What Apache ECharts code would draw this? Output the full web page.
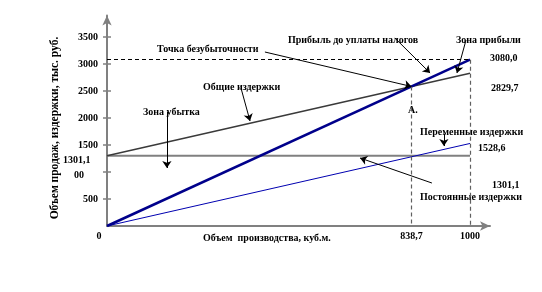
<!DOCTYPE html>
<html><head><meta charset="utf-8">
<script src="https://cdn.jsdelivr.net/npm/echarts@6/dist/echarts.min.js"></script>
<style>html,body{margin:0;padding:0;background:#fff}#c{width:542px;height:292px}</style>
</head><body><div id="c"></div>
<script>
// ---- data ----
const volumes = [0, 1000];
const revenue = [0, 3080.0];
const totalCosts = [1301.1, 2829.7];
const variableCosts = [0, 1528.6];
const fixedCosts = [1301.1, 1301.1];
const breakEvenVolume = 838.7;
const breakEvenRevenue = 2583.2;
const yTickValues = [500, 1000, 1500, 2000, 2500, 3000, 3500];
const yTickLabels = ['500', '00', '1500', '2000', '2500', '3000', '3500'];
const xLabelValues = [0, 838.7, 1000];
const xLabelTexts = ['0', '838,7', '1000'];
// annotation arrows: [fromX, fromY, toX, toY] in data units
const arrows = [
  [435, 3222, 838.7, 2583.2],
  [793, 3481, 890, 2833],
  [989, 3444, 964, 2833],
  [369, 2556, 394, 1944],
  [165, 2111, 165, 1074],
  [928, 1704, 928, 1481],
  [895, 796, 697, 1259]
];

const pairs = (xs, ys) => xs.map((x, i) => [x, ys[i]]);
const FONT = 'Liberation Serif';
const txt = (text, x, y, extra) => Object.assign({
  type: 'text', left: x, top: y,
  style: { text: text, font: 'bold 10px "Liberation Serif"', fill: '#000', textVerticalAlign: 'middle' }
}, extra || {});

const chart = echarts.init(document.getElementById('c'), null, { renderer: 'canvas' });
const option = {
  animation: false,
  grid: { left: 107, right: 52, top: 15.4, bottom: 66, containLabel: false },
  xAxis: {
    type: 'value', min: 0, max: 1055,
    splitLine: { show: false },
    axisLine: { lineStyle: { color: '#808080', width: 2 }, symbol: ['none', 'arrow'], symbolSize: [7, 10] },
    axisTick: { show: false },
    axisLabel: {
      customValues: xLabelValues,
      margin: 5,
      fontFamily: FONT, fontWeight: 'bold', fontSize: 10, color: '#000',
      formatter: v => {
        const i = xLabelValues.indexOf(v);
        const t = i >= 0 ? xLabelTexts[i] : '';
        return v === 0 ? '{z|' + t + '}' : t;
      },
      rich: { z: { padding: [0, 16, 0, 0], fontFamily: FONT, fontWeight: 'bold', fontSize: 10, color: '#000' } }
    }
  },
  yAxis: [{
    type: 'value', min: 0, max: 3900,
    splitLine: { show: false },
    axisLine: { lineStyle: { color: '#808080', width: 2 }, symbol: ['none', 'arrow'], symbolSize: [7, 10] },
    axisTick: { customValues: yTickValues, length: 4, lineStyle: { color: '#808080', width: 1.5 } },
    axisLabel: {
      customValues: yTickValues, margin: 9,
      fontFamily: FONT, fontWeight: 'bold', fontSize: 10, color: '#000',
      formatter: v => {
        const i = yTickValues.indexOf(v);
        const t = i >= 0 ? yTickLabels[i] : '';
        return v === 1000 ? '{s|' + t + '}' : t;
      },
      rich: { s: { padding: [6, 14, 0, 0], fontFamily: FONT, fontWeight: 'bold', fontSize: 10, color: '#000' } }
    }
  }, {
    type: 'value', min: 0, max: 3900, position: 'left',
    splitLine: { show: false }, axisLine: { show: false }, axisLabel: { show: false },
    axisTick: { customValues: yTickValues, inside: true, length: 4, lineStyle: { color: '#808080', width: 1.5 } }
  }],
  series: [
    {
      type: 'line', name: 'fixed', data: pairs(volumes, fixedCosts), symbol: 'none',
      lineStyle: { color: '#808080', width: 2 }, z: 2,
      markLine: {
        silent: true, animation: false, symbol: ['none', 'none'], label: { show: false },
        data: [
          [{ coord: [0, revenue[1]], lineStyle: { color: '#000', type: [4, 3], width: 1 } }, { coord: [volumes[1], revenue[1]] }],
          [{ coord: [breakEvenVolume, breakEvenRevenue], lineStyle: { color: '#606060', type: [4, 3], width: 1.2 } }, { coord: [breakEvenVolume, 0] }],
          [{ coord: [volumes[1], revenue[1]], lineStyle: { color: '#606060', type: [4, 3], width: 1.2 } }, { coord: [volumes[1], 0] }]
        ]
      }
    },
    { type: 'line', name: 'variable', data: pairs(volumes, variableCosts), symbol: 'none', lineStyle: { color: '#0000b0', width: 1 }, z: 3 },
    { type: 'line', name: 'total', data: pairs(volumes, totalCosts), symbol: 'none', lineStyle: { color: '#3a3a3a', width: 1.5 }, z: 3 },
    {
      type: 'line', name: 'revenue', data: pairs(volumes, revenue), symbol: 'none', lineStyle: { color: '#00008b', width: 2.5 }, z: 4,
      markLine: {
        silent: true, animation: false, symbol: ['none', 'arrow'], symbolSize: 7, label: { show: false },
        lineStyle: { color: '#000', width: 1, type: 'solid' },
        data: arrows.map(a => [{ coord: [a[0], a[1]] }, { coord: [a[2], a[3]] }])
      }
    }
  ],
  graphic: [
    {
      type: 'text', x: 55, y: 128, rotation: Math.PI / 2,
      style: { text: 'Объем продаж, издержки, тыс. руб.', font: 'bold 11.5px "Liberation Serif"', fill: '#000', align: 'center', verticalAlign: 'middle' }
    },
    txt('Точка безубыточности', 157, 44),
    txt('Прибыль до уплаты налогов', 288, 35),
    txt('Зона прибыли', 456, 35),
    txt('3080,0', 490, 53),
    txt('2829,7', 491, 83),
    txt('A.', 408, 105),
    txt('Общие издержки', 203, 82),
    txt('Зона убытка', 143, 107),
    txt('Переменные издержки', 420, 127),
    txt('1528,6', 478, 143),
    txt('1301,1', 492, 180),
    txt('Постоянные издержки', 420, 192),
    txt('1301,1', 63, 155),
    txt('Объем  производства, куб.м.', 203, 233)
  ]
};
chart.setOption(option);
</script>
</body></html>
